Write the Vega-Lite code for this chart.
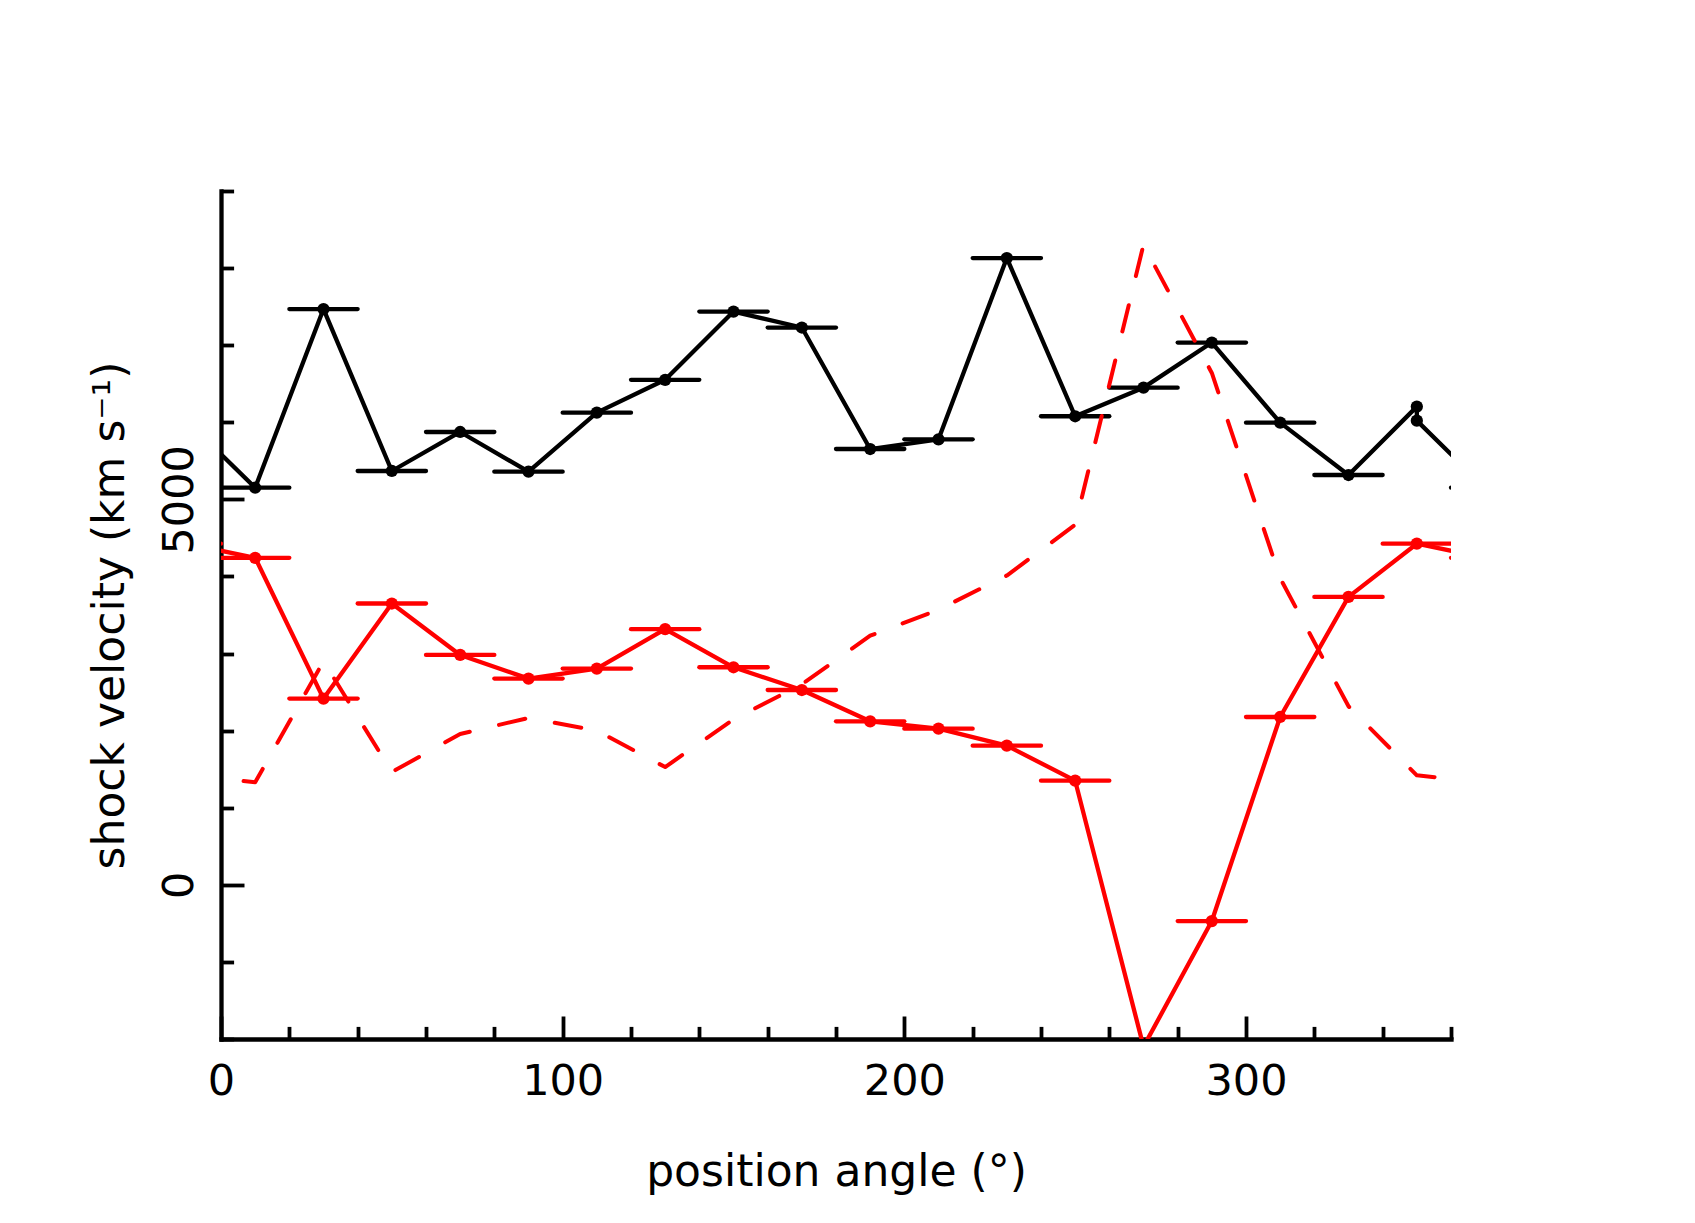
{
  "$schema": "https://vega.github.io/schema/vega-lite/v6.json",
  "autosize": {"type": "none"},
  "width": 1230,
  "height": 848,
  "padding": {"left": 221, "top": 191, "right": 244, "bottom": 184},
  "background": "white",
  "config": {"view": {"stroke": null}},
  "datasets": {
    "black": [
      {"ord": 0, "pa": -10, "v": 6021},
      {"ord": 1, "pa": 10, "v": 5151, "lo": 0, "hi": 20},
      {"ord": 2, "pa": 30, "v": 7468, "lo": 20, "hi": 40},
      {"ord": 3, "pa": 50, "v": 5368, "lo": 40, "hi": 60},
      {"ord": 4, "pa": 70, "v": 5874, "lo": 60, "hi": 80},
      {"ord": 5, "pa": 90, "v": 5359, "lo": 80, "hi": 100},
      {"ord": 6, "pa": 110, "v": 6125, "lo": 100, "hi": 120},
      {"ord": 7, "pa": 130, "v": 6551, "lo": 120, "hi": 140},
      {"ord": 8, "pa": 150, "v": 7436, "lo": 140, "hi": 160},
      {"ord": 9, "pa": 170, "v": 7229, "lo": 160, "hi": 180},
      {"ord": 10, "pa": 190, "v": 5653, "lo": 180, "hi": 200},
      {"ord": 11, "pa": 210, "v": 5779, "lo": 200, "hi": 220},
      {"ord": 12, "pa": 230, "v": 8130, "lo": 220, "hi": 240},
      {"ord": 13, "pa": 250, "v": 6078, "lo": 240, "hi": 260},
      {"ord": 14, "pa": 270, "v": 6449, "lo": 260, "hi": 280},
      {"ord": 15, "pa": 290, "v": 7034, "lo": 280, "hi": 300},
      {"ord": 16, "pa": 310, "v": 5995, "lo": 300, "hi": 320},
      {"ord": 17, "pa": 330, "v": 5316, "lo": 320, "hi": 340},
      {"ord": 18, "pa": 350, "v": 6203},
      {"ord": 19, "pa": 350, "v": 6021},
      {"ord": 20, "pa": 370, "v": 5151, "lo": 360, "hi": 380}
    ],
    "red": [
      {"ord": 0, "pa": -10, "v": 4425, "lo": -20, "hi": 0},
      {"ord": 1, "pa": 10, "v": 4242, "lo": 0, "hi": 20},
      {"ord": 2, "pa": 30, "v": 2416, "lo": 20, "hi": 40},
      {"ord": 3, "pa": 50, "v": 3649, "lo": 40, "hi": 60},
      {"ord": 4, "pa": 70, "v": 2982, "lo": 60, "hi": 80},
      {"ord": 5, "pa": 90, "v": 2675, "lo": 80, "hi": 100},
      {"ord": 6, "pa": 110, "v": 2805, "lo": 100, "hi": 120},
      {"ord": 7, "pa": 130, "v": 3316, "lo": 120, "hi": 140},
      {"ord": 8, "pa": 150, "v": 2822, "lo": 140, "hi": 160},
      {"ord": 9, "pa": 170, "v": 2527, "lo": 160, "hi": 180},
      {"ord": 10, "pa": 190, "v": 2121, "lo": 180, "hi": 200},
      {"ord": 11, "pa": 210, "v": 2026, "lo": 200, "hi": 220},
      {"ord": 12, "pa": 230, "v": 1805, "lo": 220, "hi": 240},
      {"ord": 13, "pa": 250, "v": 1351, "lo": 240, "hi": 260},
      {"ord": 14, "pa": 270, "v": -2100, "lo": 260, "hi": 280},
      {"ord": 15, "pa": 290, "v": -470, "lo": 280, "hi": 300},
      {"ord": 16, "pa": 310, "v": 2177, "lo": 300, "hi": 320},
      {"ord": 17, "pa": 330, "v": 3735, "lo": 320, "hi": 340},
      {"ord": 18, "pa": 350, "v": 4425, "lo": 340, "hi": 360},
      {"ord": 19, "pa": 370, "v": 4242, "lo": 360, "hi": 380}
    ],
    "dashed": [
      {"ord": 0, "pa": -10, "v": 1420},
      {"ord": 1, "pa": 10, "v": 1330},
      {"ord": 2, "pa": 30, "v": 2900},
      {"ord": 3, "pa": 50, "v": 1462},
      {"ord": 4, "pa": 70, "v": 1956},
      {"ord": 5, "pa": 90, "v": 2165},
      {"ord": 6, "pa": 110, "v": 2000},
      {"ord": 7, "pa": 130, "v": 1527},
      {"ord": 8, "pa": 150, "v": 2147},
      {"ord": 9, "pa": 170, "v": 2600},
      {"ord": 10, "pa": 190, "v": 3231},
      {"ord": 11, "pa": 210, "v": 3569},
      {"ord": 12, "pa": 230, "v": 4012},
      {"ord": 13, "pa": 250, "v": 4670},
      {"ord": 14, "pa": 270, "v": 8303},
      {"ord": 15, "pa": 290, "v": 6640},
      {"ord": 16, "pa": 310, "v": 3978},
      {"ord": 17, "pa": 330, "v": 2316},
      {"ord": 18, "pa": 350, "v": 1420},
      {"ord": 19, "pa": 370, "v": 1330}
    ]
  },
  "resolve": {"axis": {"x": "independent", "y": "independent"}},
  "layer": [
    {
      "data": {"name": "black"},
      "transform": [{"filter": "isValid(datum.lo)"}],
      "mark": {"type": "rule", "color": "black", "strokeWidth": 4.3, "strokeCap": "round", "clip": true},
      "encoding": {
        "x": {"field": "lo", "type": "quantitative", "scale": {"domain": [0, 360], "nice": false, "zero": false}, "axis": null},
        "x2": {"field": "hi"},
        "y": {"field": "v", "type": "quantitative", "scale": {"domain": [-2000, 9000], "nice": false, "zero": false}, "axis": null}
      }
    },
    {
      "data": {"name": "black"},
      "mark": {"type": "line", "color": "black", "strokeWidth": 4.3, "strokeJoin": "round", "strokeCap": "round", "clip": true},
      "encoding": {
        "x": {"field": "pa", "type": "quantitative", "scale": {"domain": [0, 360], "nice": false, "zero": false},
          "axis": {"orient": "bottom", "values": [0, 100, 200, 300], "format": "d", "grid": false,
            "domain": true, "domainColor": "black", "domainWidth": 4.3, "domainCap": "square",
            "ticks": true, "tickSize": -23, "tickWidth": 3.8, "tickColor": "black",
            "labels": true, "labelFont": "DejaVu Sans", "labelFontSize": 43, "labelColor": "black",
            "labelPadding": 44, "labelBaseline": "top", "labelAlign": "center", "labelFlush": false, "labelOverlap": false, "labelBound": false,
            "title": "position angle (°)", "titleFont": "DejaVu Sans", "titleFontSize": 44, "titleFontWeight": "normal",
            "titleColor": "black", "titleBaseline": "alphabetic", "titleY": 146, "zindex": 0}},
        "y": {"field": "v", "type": "quantitative", "scale": {"domain": [-2000, 9000], "nice": false, "zero": false},
          "axis": {"orient": "left", "values": [0, 5000], "format": "d", "grid": false,
            "domain": true, "domainColor": "black", "domainWidth": 4.3, "domainCap": "square",
            "ticks": true, "tickSize": -23, "tickWidth": 3.8, "tickColor": "black",
            "labels": true, "labelFont": "DejaVu Sans", "labelFontSize": 43, "labelColor": "black",
            "labelAngle": 270, "labelAlign": "center", "labelBaseline": "alphabetic", "labelPadding": 52,
            "labelFlush": false, "labelOverlap": false, "labelBound": false,
            "title": "shock velocity (km s⁻¹)", "titleFont": "DejaVu Sans", "titleFontSize": 44, "titleFontWeight": "normal",
            "titleColor": "black", "titleAngle": 270, "titleAlign": "center", "titleBaseline": "alphabetic", "titleX": -98, "zindex": 0}},
        "order": {"field": "ord", "type": "quantitative"}
      }
    },
    {
      "data": {"name": "black"},
      "mark": {"type": "circle", "color": "black", "opacity": 1, "size": 150, "clip": true},
      "encoding": {
        "x": {"field": "pa", "type": "quantitative", "scale": {"domain": [0, 360], "nice": false, "zero": false},
          "axis": {"orient": "bottom", "values": [20, 40, 60, 80, 120, 140, 160, 180, 220, 240, 260, 280, 320, 340, 360],
            "grid": false, "domain": false, "labels": false, "title": null,
            "ticks": true, "tickSize": -12.6, "tickWidth": 3.8, "tickColor": "black", "zindex": 0}},
        "y": {"field": "v", "type": "quantitative", "scale": {"domain": [-2000, 9000], "nice": false, "zero": false},
          "axis": {"orient": "left", "values": [-2000, -1000, 1000, 2000, 3000, 4000, 6000, 7000, 8000, 9000],
            "grid": false, "domain": false, "labels": false, "title": null,
            "ticks": true, "tickSize": -12.6, "tickWidth": 3.8, "tickColor": "black", "zindex": 0}}
      }
    },
    {
      "data": {"name": "red"},
      "transform": [{"filter": "isValid(datum.lo)"}],
      "mark": {"type": "rule", "color": "#ff0000", "strokeWidth": 4.3, "strokeCap": "round", "clip": true},
      "encoding": {
        "x": {"field": "lo", "type": "quantitative", "axis": null},
        "x2": {"field": "hi"},
        "y": {"field": "v", "type": "quantitative", "axis": null}
      }
    },
    {
      "data": {"name": "red"},
      "mark": {"type": "line", "color": "#ff0000", "strokeWidth": 4.3, "strokeJoin": "round", "strokeCap": "round", "clip": true},
      "encoding": {
        "x": {"field": "pa", "type": "quantitative", "axis": null},
        "y": {"field": "v", "type": "quantitative", "axis": null},
        "order": {"field": "ord", "type": "quantitative"}
      }
    },
    {
      "data": {"name": "red"},
      "mark": {"type": "circle", "color": "#ff0000", "opacity": 1, "size": 150, "clip": true},
      "encoding": {
        "x": {"field": "pa", "type": "quantitative", "axis": null},
        "y": {"field": "v", "type": "quantitative", "axis": null}
      }
    },
    {
      "data": {"name": "dashed"},
      "mark": {"type": "line", "color": "#ff0000", "strokeWidth": 4, "strokeDash": [27, 30], "strokeCap": "round", "strokeJoin": "round", "clip": true},
      "encoding": {
        "x": {"field": "pa", "type": "quantitative", "axis": null},
        "y": {"field": "v", "type": "quantitative", "axis": null},
        "order": {"field": "ord", "type": "quantitative"}
      }
    }
  ]
}
